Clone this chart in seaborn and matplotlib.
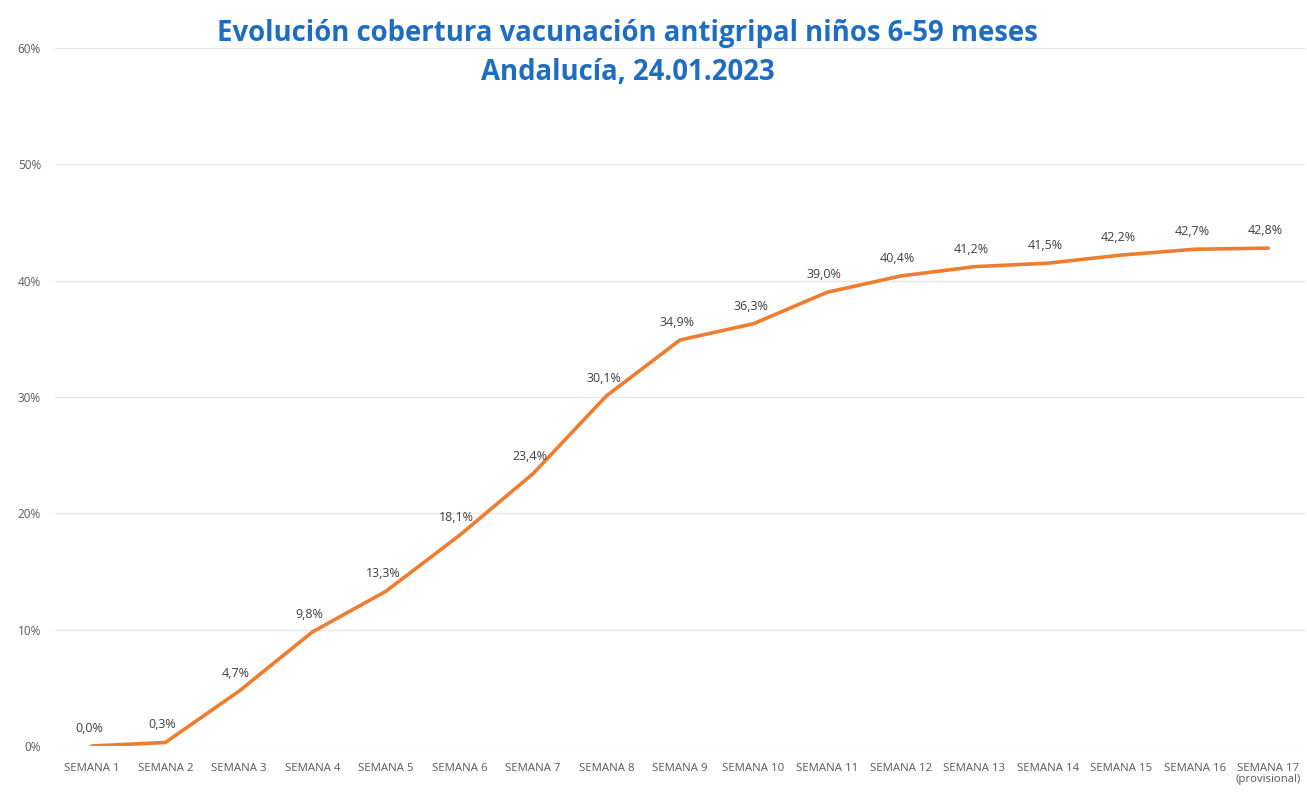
import seaborn as sns
import matplotlib.pyplot as plt
import pandas as pd

# data
semanas = [f"SEMANA {i}" for i in range(1, 18)]
cobertura = [0.0, 0.3, 4.7, 9.8, 13.3, 18.1, 23.4, 30.1, 34.9, 36.3,
             39.0, 40.4, 41.2, 41.5, 42.2, 42.7, 42.8]
tick_labels = semanas[:-1] + ["SEMANA 17\n(provisional)"]
y_ticks = [0, 10, 20, 30, 40, 50, 60]

df = pd.DataFrame({"semana": semanas, "cobertura": cobertura})

sns.set_theme(style="white")
plt.rcParams["font.family"] = ["Open Sans", "DejaVu Sans"]

fig = plt.figure(figsize=(13.07, 7.93), dpi=100)
ax = fig.add_axes([55 / 1307, 47 / 793, 1250 / 1307, 698 / 793])

sns.lineplot(data=df, x="semana", y="cobertura", color="#ED7D31",
             linewidth=2.6, sort=False, ax=ax)

for i, v in enumerate(cobertura):
    ax.annotate(f"{v:.1f}%".replace(".", ","), (i, v), xytext=(-2, 8),
                textcoords="offset points", ha="center", va="bottom",
                fontsize=9, color="#404040")

ax.set_xlim(-0.5, 16.5)
ax.set_ylim(0, 60)
ax.set_yticks(y_ticks)
ax.set_yticklabels([f"{t}%" for t in y_ticks])
ax.set_xticks(range(len(semanas)))
ax.set_xticklabels(tick_labels, linespacing=1.0)
ax.tick_params(axis="x", labelsize=8.2, colors="#595959", length=0, pad=12)
ax.tick_params(axis="y", labelsize=8.5, colors="#595959", length=0, pad=10)

ax.yaxis.grid(True, color="#E6E6E6", linewidth=1)
ax.set_axisbelow(True)
for s in ax.spines.values():
    s.set_visible(False)
ax.set_xlabel("")
ax.set_ylabel("")

fig.text(0.48, 0.958, "Evolución cobertura vacunación antigripal niños 6-59 meses",
         ha="center", va="center", fontsize=19.8, fontweight="bold", color="#1F6DC0")
fig.text(0.48, 0.908, "Andalucía, 24.01.2023",
         ha="center", va="center", fontsize=19.8, fontweight="bold", color="#1F6DC0")

fig.savefig("out.png", dpi=100)
